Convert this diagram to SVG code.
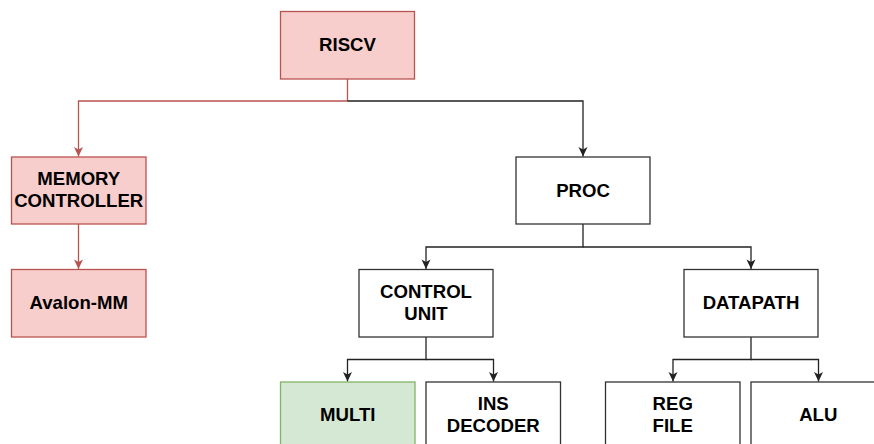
<svg xmlns="http://www.w3.org/2000/svg" width="874" height="444" viewBox="0 0 874 444">
<style>
.box{fill:#ffffff;stroke:#333333;stroke-width:1.3}
.red{fill:#f8cecc;stroke:#b85450;stroke-width:1.3}
.green{fill:#d5e8d4;stroke:#82b366;stroke-width:1.3}
text{font-family:"Liberation Sans",Arial,Helvetica,sans-serif;font-weight:bold;font-size:18.6px;fill:#000000;text-anchor:middle}
.c{fill:none;stroke:#222222;stroke-width:1.3}
.cr{fill:none;stroke:#b85450;stroke-width:1.3}
</style>
<defs>
<marker id="ab" markerUnits="userSpaceOnUse" markerWidth="12" markerHeight="12" viewBox="-11 -6 12 12" refX="0" refY="0" orient="auto">
<path d="M0,0 L-9.5,-4.5 L-7,0 L-9.5,4.5 Z" fill="#222222" stroke="none"/>
</marker>
<marker id="ar" markerUnits="userSpaceOnUse" markerWidth="12" markerHeight="12" viewBox="-11 -6 12 12" refX="0" refY="0" orient="auto">
<path d="M0,0 L-9.5,-4.5 L-7,0 L-9.5,4.5 Z" fill="#b85450" stroke="none"/>
</marker>
</defs>
<g id="connectors">
<path class="cr" d="M347.5,79 V101 H78.5 V156.5" marker-end="url(#ar)"/>
<path class="c" d="M347.5,101 H583 V156.5" marker-end="url(#ab)"/>
<path class="cr" d="M78.5,224 V269" marker-end="url(#ar)"/>
<path class="c" d="M583,224 V247 H426 V269" marker-end="url(#ab)"/>
<path class="c" d="M583,247 H751 V269" marker-end="url(#ab)"/>
<path class="c" d="M426,337 V359.5 H347.5 V381.5" marker-end="url(#ab)"/>
<path class="c" d="M426,359.5 H493.5 V381.5" marker-end="url(#ab)"/>
<path class="c" d="M751,337 V359.5 H673 V381.5" marker-end="url(#ab)"/>
<path class="c" d="M751,359.5 H818.5 V381.5" marker-end="url(#ab)"/>
</g>
<g id="riscv"><rect class="red" x="280.5" y="11.5" width="134" height="67.5"/><text x="347.5" y="51">RISCV</text></g>
<g id="memctrl"><rect class="red" x="11.5" y="157" width="134.5" height="67"/><text x="78.75" y="185">MEMORY</text><text x="78.75" y="207.3">CONTROLLER</text></g>
<g id="avalon"><rect class="red" x="11.5" y="269.5" width="134.5" height="67.5"/><text x="78.75" y="309">Avalon-MM</text></g>
<g id="proc"><rect class="box" x="516" y="157" width="134" height="67"/><text x="583" y="196.5">PROC</text></g>
<g id="ctrlunit"><rect class="box" x="359" y="269.5" width="134" height="67.5"/><text x="426" y="297.5">CONTROL</text><text x="426" y="319.5">UNIT</text></g>
<g id="datapath"><rect class="box" x="684" y="269.5" width="134" height="67.5"/><text x="751" y="309">DATAPATH</text></g>
<g id="multi"><rect class="green" x="280.5" y="382" width="134.5" height="67"/><text x="347.75" y="421">MULTI</text></g>
<g id="insdec"><rect class="box" x="426" y="382" width="134.5" height="67"/><text x="493.25" y="410">INS</text><text x="493.25" y="431.5">DECODER</text></g>
<g id="regfile"><rect class="box" x="605.5" y="382" width="134.5" height="67"/><text x="672.75" y="410">REG</text><text x="672.75" y="431.5">FILE</text></g>
<g id="alu"><rect class="box" x="751" y="382" width="134.5" height="67"/><text x="818.25" y="421">ALU</text></g>
</svg>
